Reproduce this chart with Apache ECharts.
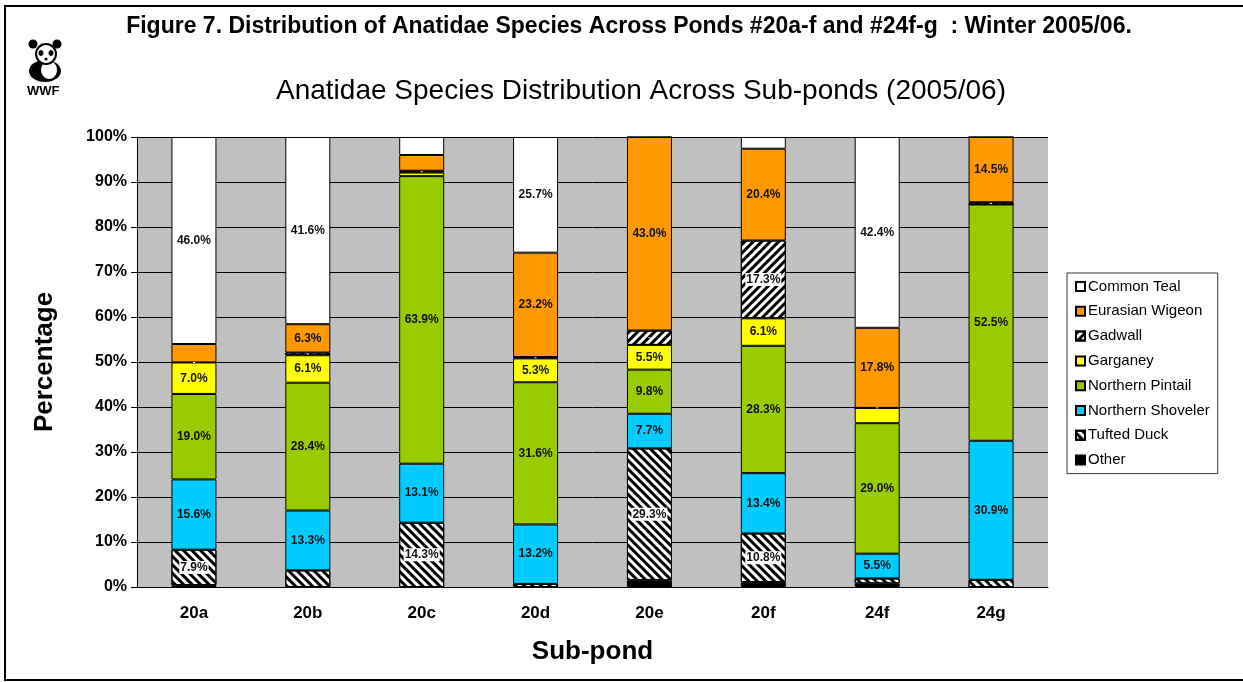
<!DOCTYPE html>
<html>
<head>
<meta charset="utf-8">
<title>Anatidae Species Distribution</title>
<script src="https://cdn.jsdelivr.net/npm/echarts@6/dist/echarts.min.js"></script>
<style>
  html, body { margin: 0; padding: 0; background: #fff; }
  #chart { width: 1243px; height: 682px; }
</style>
</head>
<body>
<div id="chart"></div>
<script>
// sub-ponds
var categories = ['20a', '20b', '20c', '20d', '20e', '20f', '24f', '24g'];
// percentage of birds per species (bottom of stack first)
var other    = [0.4, 0, 0, 0, 1.5, 1.1, 0.8, 0];
var tufted   = [7.9, 3.7, 14.3, 0.7, 29.3, 10.8, 1.1, 1.6];
var shoveler = [15.6, 13.3, 13.1, 13.2, 7.7, 13.4, 5.5, 30.9];
var pintail  = [19.0, 28.4, 63.9, 31.6, 9.8, 28.3, 29.0, 52.5];
var garganey = [7.0, 6.1, 0.8, 5.3, 5.5, 6.1, 3.4, 0];
var gadwall  = [0, 0.6, 0.4, 0.3, 3.2, 17.3, 0, 0.5];
var wigeon   = [4.1, 6.3, 3.5, 23.2, 43.0, 20.4, 17.8, 14.5];
var teal     = [46.0, 41.6, 4.0, 25.7, 0, 2.6, 42.4, 0];
var yTicks = [0, 10, 20, 30, 40, 50, 60, 70, 80, 90, 100];

var font = 'Liberation Sans, Arial, sans-serif';
var myChart = echarts.init(document.getElementById('chart'));

// only label the bigger slices, like the original
function pct(p) {
  return p.value >= 5 ? p.value.toFixed(1) + '%' : '';
}

function makeSeries(name, data, color, hatch) {
  var s = {
    name: name,
    type: 'bar',
    stack: 'all',
    barWidth: 45,
    data: data,
    itemStyle: { color: color, borderColor: '#000', borderWidth: 1 },
    label: {
      show: true,
      position: 'inside',
      formatter: pct,
      color: '#111',
      fontFamily: font,
      fontWeight: 'bold',
      fontSize: 12
    }
  };
  if (hatch) {
    s.itemStyle.decal = {
      symbol: 'rect',
      symbolSize: 1,
      color: '#000',
      dashArrayX: [1, 0],
      dashArrayY: [2.5, 2.5],
      rotation: hatch
    };
    s.label.backgroundColor = '#fff';
    s.label.padding = [1, 1, 0, 1];
  }
  return s;
}

var option = {
  animation: false,
  backgroundColor: '#fff',
  title: [
    {
      text: 'Figure 7. Distribution of Anatidae Species Across Ponds #20a-f and #24f-g  : Winter 2005/06.',
      left: 624, top: 10, textAlign: 'center',
      textStyle: { fontFamily: font, fontWeight: 'bold', fontSize: 23, color: '#000' }
    },
    {
      text: 'Anatidae Species Distribution Across Sub-ponds (2005/06)',
      left: 636, top: 72, textAlign: 'center',
      textStyle: { fontFamily: font, fontWeight: 'normal', fontSize: 28, color: '#000' }
    }
  ],
  legend: {
    orient: 'vertical',
    left: 1067, top: 273,
    padding: [6, 8, 6, 8],
    itemGap: 9.8,
    itemWidth: 9, itemHeight: 9,
    icon: 'rect',
    borderColor: '#333', borderWidth: 1,
    backgroundColor: '#fff',
    data: ['Common Teal', 'Eurasian Wigeon', 'Gadwall', 'Garganey', 'Northern Pintail', 'Northern Shoveler', 'Tufted Duck', 'Other'],
    textStyle: { fontFamily: font, fontSize: 15, color: '#000', lineHeight: 14, height: 14, padding: [0, 0, 0, -2] }
  },
  grid: {
    left: 137, right: 195, top: 137, bottom: 95,
    show: true, backgroundColor: '#c0c0c0', borderWidth: 0
  },
  xAxis: {
    type: 'category',
    data: categories,
    name: 'Sub-pond',
    nameLocation: 'middle',
    nameGap: 52,
    nameTextStyle: { fontFamily: font, fontWeight: 'bold', fontSize: 26, color: '#000' },
    axisLine: { lineStyle: { color: '#000', width: 1 } },
    axisTick: { length: 5, lineStyle: { color: '#000' } },
    axisLabel: { margin: 18, fontFamily: font, fontWeight: 'bold', fontSize: 17, color: '#000' }
  },
  yAxis: {
    type: 'value',
    min: yTicks[0], max: yTicks[yTicks.length - 1], interval: 10,
    name: 'Percentage',
    nameLocation: 'middle',
    nameGap: 79,
    nameTextStyle: { fontFamily: font, fontWeight: 'bold', fontSize: 26, color: '#000' },
    axisLine: { show: true, lineStyle: { color: '#000', width: 1 } },
    axisTick: { show: true, length: 6, lineStyle: { color: '#000' } },
    axisLabel: { margin: 10, formatter: '{value}%', fontFamily: font, fontWeight: 'bold', fontSize: 16, color: '#000' },
    splitLine: { lineStyle: { color: '#000', width: 1 } }
  },
  series: [
    makeSeries('Other', other, '#000000'),
    makeSeries('Tufted Duck', tufted, '#ffffff', Math.PI / 4),
    makeSeries('Northern Shoveler', shoveler, '#00ccff'),
    makeSeries('Northern Pintail', pintail, '#99cc00'),
    makeSeries('Garganey', garganey, '#ffff00'),
    makeSeries('Gadwall', gadwall, '#ffffff', -Math.PI / 4),
    makeSeries('Eurasian Wigeon', wigeon, '#ff9900'),
    makeSeries('Common Teal', teal, '#ffffff')
  ],
  graphic: [
    // frame round the figure
    { type: 'rect', shape: { x: 5, y: 6, width: 1240, height: 674 }, style: { fill: 'none', stroke: '#000', lineWidth: 2 }, silent: true },
    // rough WWF panda
    { type: 'circle', shape: { cx: 33, cy: 44, r: 4.5 }, style: { fill: '#000' } },
    { type: 'circle', shape: { cx: 57, cy: 44, r: 4.5 }, style: { fill: '#000' } },
    { type: 'ellipse', shape: { cx: 45, cy: 71, rx: 16, ry: 11 }, style: { fill: '#000' } },
    { type: 'ellipse', shape: { cx: 49, cy: 70, rx: 8, ry: 9 }, style: { fill: '#fff' } },
    { type: 'circle', shape: { cx: 46, cy: 54, r: 10 }, style: { fill: '#fff', stroke: '#000', lineWidth: 2 } },
    { type: 'ellipse', shape: { cx: 41, cy: 53, rx: 2.5, ry: 3 }, style: { fill: '#000' } },
    { type: 'ellipse', shape: { cx: 51, cy: 53, rx: 2.5, ry: 3 }, style: { fill: '#000' } },
    { type: 'circle', shape: { cx: 46, cy: 59, r: 1.6 }, style: { fill: '#000' } },
    { type: 'text', left: 27, top: 85, style: { text: 'WWF', fontFamily: font, fontWeight: 'bold', fontSize: 13, fill: '#000' } }
  ]
};

myChart.setOption(option);
</script>
</body>
</html>
